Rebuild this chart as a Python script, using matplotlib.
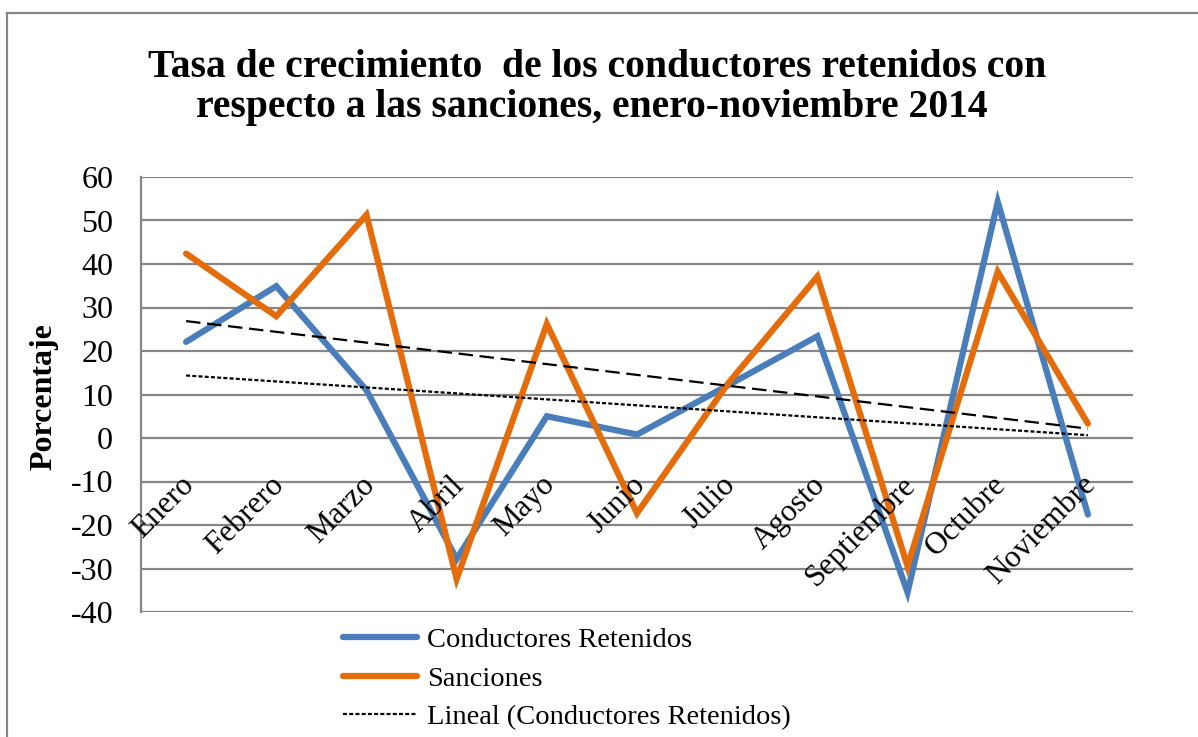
import numpy as np
import matplotlib.pyplot as plt
from matplotlib.lines import Line2D

# data
meses = ["Enero", "Febrero", "Marzo", "Abril", "Mayo", "Junio", "Julio",
         "Agosto", "Septiembre", "Octubre", "Noviembre"]
conductores = [22.1, 34.9, 11.0, -27.8, 5.0, 0.8, 12.0, 23.4, -35.5, 54.3, -17.6]
sanciones = [42.4, 28.0, 51.3, -32.4, 26.2, -17.3, 12.3, 37.1, -29.5, 38.2, 3.3]
yticks = list(range(-40, 61, 10))

titulo1 = "Tasa de crecimiento  de los conductores retenidos con"
titulo2 = "respecto a las sanciones, enero-noviembre 2014"

plt.rcParams['font.family'] = ['Liberation Serif', 'DejaVu Serif']
plt.rcParams['axes.unicode_minus'] = False

AZUL = "#4A7EBB"
NARANJA = "#E46C0A"
GRIS = "#868686"

fig = plt.figure(figsize=(11.98, 7.37), dpi=100)
ax = fig.add_axes([141 / 1198, 1 - 612 / 737, (1133 - 141) / 1198, (612 - 177) / 737])

x = np.arange(len(meses))

# series (Sanciones drawn after, so on top)
ax.plot(x, conductores, color=AZUL, lw=4.5, solid_capstyle='round', solid_joinstyle='miter',
        label="Conductores Retenidos", zorder=3)
ax.plot(x, sanciones, color=NARANJA, lw=4.5, solid_capstyle='round', solid_joinstyle='miter',
        label="Sanciones", zorder=4)

# linear trends
p1 = np.polyfit(x, conductores, 1)
p2 = np.polyfit(x, sanciones, 1)
ax.plot(x, np.polyval(p1, x), color='black', lw=1.6, dashes=(1.8, 1.0),
        label="Lineal (Conductores Retenidos)", zorder=5)
ax.plot(x, np.polyval(p2, x), color='black', lw=1.6, dashes=(6.5, 3.0), zorder=5)

ax.set_xlim(-0.5, len(meses) - 0.5)
ax.set_ylim(-40, 60)
ax.set_yticks(yticks)
ax.set_xticks([])
ax.grid(axis='y', color=GRIS, lw=1.6, zorder=0)
ax.set_axisbelow(True)
for s in ['top', 'right', 'bottom']:
    ax.spines[s].set_visible(False)
ax.spines['left'].set_color(GRIS)
ax.spines['left'].set_linewidth(1.6)
ax.tick_params(axis='y', length=0, pad=20, labelsize=23)

# category labels next to the zero line
for i, m in enumerate(meses):
    ax.text(i + 0.04, -9.8, m, rotation=45, rotation_mode='anchor',
            ha='right', va='center', fontsize=22.5, zorder=6)

ax.set_ylabel("Porcentaje", fontsize=23, fontweight='bold', va='center')
ax.yaxis.set_label_coords(-(141 - 44) / 992, 1 - (397 - 177) / 435)

fig.text(597 / 1198, 1 - 77 / 737, titulo1, ha='center', va='baseline', fontsize=28.5,
         fontweight='bold')
fig.text(592 / 1198, 1 - 117 / 737, titulo2, ha='center', va='baseline', fontsize=28.5,
         fontweight='bold')

ax.legend(loc='upper left', bbox_to_anchor=(343 / 1198, 1 - 627 / 737),
          bbox_transform=fig.transFigure, frameon=False, fontsize=20.5,
          handlelength=2.6, handletextpad=0.35, labelspacing=0.45, borderpad=0,
          borderaxespad=0)

# chart border (only top and left visible in the crop)
fig.add_artist(Line2D([7 / 1198, 7 / 1198], [-0.1, 1 - 13 / 737], color=GRIS, lw=1.6,
                      transform=fig.transFigure))
fig.add_artist(Line2D([7 / 1198, 1.1], [1 - 13 / 737, 1 - 13 / 737], color=GRIS, lw=1.6,
                      transform=fig.transFigure))

fig.savefig("out.png", dpi=100)
